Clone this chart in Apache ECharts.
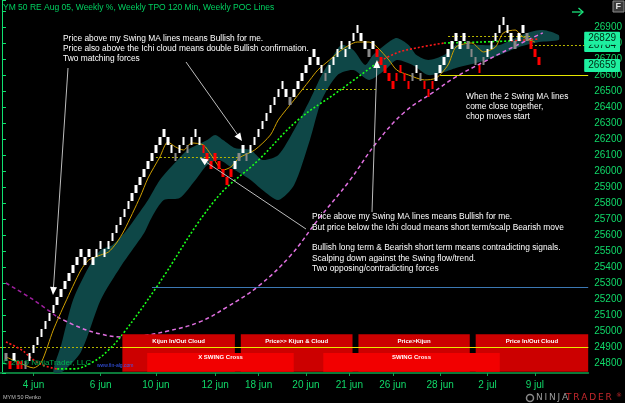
<!DOCTYPE html>
<html><head><meta charset="utf-8">
<script src="https://cdn.jsdelivr.net/npm/echarts@6/dist/echarts.min.js"></script>
<style>html,body{margin:0;padding:0;background:#000}#c{width:625px;height:403px}</style>
</head><body><div id="c"></div>
<script>
// ---------- DATA ----------
const title = 'YM 50 RE Aug 05, Weekly %, Weekly TPO 120 Min, Weekly POC Lines';
// Renko bricks (50 pt): bottom value of each brick, in order
const brickLow = [
24812.5,24762.5,24812.5,24762.5,24762.5,24762.5,24812.5,24862.5,24912.5,24962.5,
25012.5,25062.5,25112.5,25162.5,25212.5,25262.5,25312.5,25362.5,25412.5,25462.5,
25412.5,25462.5,25412.5,25462.5,25512.5,25462.5,25512.5,25562.5,25612.5,25662.5,
25712.5,25762.5,25812.5,25862.5,25912.5,25962.5,26012.5,26062.5,26112.5,26162.5,
26212.5,26162.5,26112.5,26062.5,26112.5,26162.5,26112.5,26162.5,26212.5,26162.5,
26112.5,26062.5,26012.5,26062.5,26012.5,25962.5,25912.5,25962.5,26012.5,26062.5,
26112.5,26062.5,26112.5,26162.5,26212.5,26262.5,26312.5,26362.5,26412.5,26462.5,
26512.5,26462.5,26412.5,26462.5,26512.5,26562.5,26612.5,26662.5,26712.5,26662.5,
26612.5,26562.5,26612.5,26662.5,26712.5,26762.5,26712.5,26762.5,26812.5,26862.5,
26812.5,26762.5,26712.5,26762.5,26712.5,26662.5,26612.5,26562.5,26512.5,26562.5,
26612.5,26562.5,26512.5,26562.5,26612.5,26562.5,26512.5,26462.5,26512.5,26562.5,
26612.5,26662.5,26712.5,26762.5,26812.5,26762.5,26812.5,26762.5,26712.5,26662.5,
26612.5,26662.5,26712.5,26762.5,26812.5,26862.5,26912.5,26862.5,26812.5,26762.5,
26812.5,26862.5,26812.5,26762.5,26712.5,26662.5];
const brickSize = 50;
// W = white, R = red, G = gray
const brickTone =
'GRWRRGWWWW'+'WWWWWWWWWW'+'WWWWWWWWWW'+'WWWWWWWWWW'+'WWWGWWGWWW'+
'RRRRRRRRWG'+'WGWWWWWWWW'+'WWGWWWWWWW'+'WGWWWWWWWW'+'WWGWRRRRRR'+
'RRRGWGRRRW'+'WWWWWWWGGG'+'RGWWWWWWWG'+'WWGRRR';
const barCount = 149;
const dateIdx  = [8, 25, 39, 54, 65, 77, 88, 99, 111, 123, 135];
const dateText = ['4 jun','6 jun','10 jun','12 jun','18 jun','20 jun','21 jun','26 jun','28 jun','2 jul','9 jul'];

// lines: [bar index, value]
const fastMA = [[1,24838],[4,24806],[8,24769],[10,24806],[13,25006],[16,25175],[20,25381],[22,25444],[25,25475],[27,25494],[29,25550],[31,25631],[35,25838],[37,25956],[40,26088],[42,26181],[44,26150],[46,26131],[48,26175],[51,26163],[53,26100],[56,26006],[58,26025],[60,26081],[64,26131],[68,26225],[70,26319],[74,26444],[78,26569],[80,26631],[83,26694],[86,26756],[90,26806],[93,26806],[95,26775],[98,26694],[100,26631],[103,26600],[107,26569],[110,26581],[113,26663],[115,26775],[119,26800],[122,26744],[125,26775],[127,26863],[130,26881],[132,26838],[135,26806]];
const slowFall1 = [[1,24931],[5,24881],[8,24819],[11,24781],[14,24763]];
const slowRise1 = [[14,24763],[18,24763],[23,24806],[27,24881],[31,24994],[39,25269],[54,25819],[65,26069],[75,26319],[85,26494],[95,26675]];
const slowFall2 = [[95,26675],[100,26738],[105,26769],[112,26800]];
const slowRise2 = [[112,26800],[121,26806],[129,26813]];
const slowFall3 = [[129,26813],[136,26825]];
const longFall = [[1,25300],[8,25194],[14,25088]];
const longRise = [[14,25088],[20,25019],[25,24981],[30,24963],[35,24969],[42,25000],[50,25056],[57,25150],[65,25281],[73,25469],[80,25694],[88,25938],[95,26181],[102,26369],[109,26488],[115,26588],[122,26681],[129,26769],[137,26863]];
const cloudTop = [[13,24745],[15,24912],[18,25194],[22,25400],[25,25506],[28,25538],[31,25612],[34,25713],[37,25819],[40,25944],[44,26056],[47,26131],[52,26194],[54,26225],[56,26194],[59,26144],[63,26131],[66,26069],[70,26100],[74,26256],[78,26444],[81,26600],[84,26725],[86,26788],[89,26756],[92,26663],[94,26725],[98,26806],[100,26831],[103,26788],[105,26725],[108,26694],[112,26725],[115,26788],[121,26788],[126,26788],[129,26819],[133,26863],[137,26881],[141,26850]];
const cloudBottom = [[15,24740],[20,24869],[25,25194],[30,25400],[33,25506],[36,25612],[38,25713],[41,25819],[45,25831],[49,25944],[52,26038],[55,26069],[59,26006],[63,25944],[66,25881],[70,25819],[74,25913],[78,26194],[81,26444],[85,26600],[89,26631],[93,26569],[97,26631],[100,26694],[104,26663],[108,26600],[112,26619],[115,26644],[121,26681],[126,26725],[131,26775],[136,26806],[141,26819]];

// horizontal levels [from bar, to bar, value]
const pocDotted = [[39,60,26085],[76,95,26510],[113,134,26844],[134,148.5,26784]];
const pocSolid = [[111,148.5,26600]];
const blueLevel = [[38,148.5,25272]];
const baseLevel = 24900;
const priceTags = [26784, 26829, 26659];

// indicator panels [from bar, to bar, label]
const panelUpper = [[30.5,59,'Kijun In/Out Cloud'],[60.5,88.8,'Price>> Kijun & Cloud'],[90.3,118.5,'Price>Kijun'],[120,148.5,'Price In/Out Cloud']];
const panelLower = [[36.8,73.9,'X SWING Cross'],[81.4,126.1,'SWING Cross']];
const panelTopVal = 24980, panelMidVal = 24862, panelBotVal = 24745;

const note1 = ['Price above my Swing MA lines means Bullish for me.','Price also above the Ichi cloud means double Bullish confirmation.','Two matching forces'];
const note2 = ['Price above my Swing MA lines means Bullish for me.','But price below the Ichi cloud means short term/scalp Bearish move','','Bullish long term & Bearish short term means contradicting signals.','Scalping down against the Swing flow/trend.','Two opposing/contradicting forces'];
const note3 = ['When the 2 Swing MA lines','come close together,','chop moves start'];

// ---------- BUILD ----------
const cats = Array.from({length: barCount}, (_, i) => String(i));
const labelAt = {}; dateIdx.forEach((d, j) => labelAt[d] = dateText[j]);
const toneColor = {W:'#ffffff', R:'#ff0000', G:'#8a8a8a'};
const candle = cats.map(() => '-');
brickLow.forEach((lo, i) => {
  const t = brickTone[i]; const c = toneColor[t];
  const up = t !== 'R';
  candle[i + 1] = {value: up ? [lo, lo + brickSize, lo, lo + brickSize] : [lo + brickSize, lo, lo, lo + brickSize],
    itemStyle: {color: c, color0: c, borderColor: c, borderColor0: c, borderWidth: 0}};
});

const FONT = '"Liberation Sans", Arial, sans-serif';
function lineSeries(data, color, type, width, z, smooth) {
  return {type: 'line', xAxisIndex: 1, yAxisIndex: 0, data, symbol: 'none', smooth: smooth, z, silent: true,
    lineStyle: {color, type, width}};
}
function segLines(list) {
  return list.map(s => [{coord: [s[0], s[2]]}, {coord: [s[1], s[2]]}]);
}
function arrow(x1, y1, x2, y2) {
  const dx = x2 - x1, dy = y2 - y1, L = Math.hypot(dx, dy), ux = dx / L, uy = dy / L;
  const hl = 8, hw = 3.5, bx = x2 - ux * hl, by = y2 - uy * hl;
  return [
    {type: 'line', shape: {x1, y1, x2: bx, y2: by}, style: {stroke: '#bdbdbd', lineWidth: 1}, z: 50},
    {type: 'polygon', shape: {points: [[x2, y2], [bx - uy * hw, by + ux * hw], [bx + uy * hw, by - ux * hw]]}, style: {fill: '#ffffff'}, z: 50}
  ];
}
function textBlock(lines, x, y, lh, color, size) {
  return lines.map((t, i) => ({type: 'text', x, y: y + i * lh, z: 50, silent: true,
    style: {text: t, fill: color, font: size + 'px ' + FONT}}));
}

const graphics = [].concat(
  [{type: 'text', x: 3, y: 3, z: 50, style: {text: title, fill: '#00d060', font: '8.5px ' + FONT}}],
  textBlock(note1, 63, 35, 10, '#ffffff', 8.4),
  textBlock(note2, 312, 213, 10.3, '#ffffff', 8.4),
  textBlock(note3, 466, 93, 10, '#ffffff', 8.4),
  arrow(68, 68, 53, 295),
  arrow(186, 62, 242, 141),
  arrow(306, 229, 200, 158),
  arrow(372, 212, 377, 60),
  [
    {type: 'text', x: 3, y: 359, z: 50, style: {text: '\u00a9 2019 NinjaTrader, LLC', fill: '#00b050', font: '8px ' + FONT}},
    {type: 'text', x: 97, y: 363, z: 50, style: {text: 'www.fin-alg.com', fill: '#3a5cff', font: '5px ' + FONT}},
    {type: 'text', x: 3, y: 394, z: 50, style: {text: 'MYM 50 Renko', fill: '#bdbdbd', font: '5.5px ' + FONT}},
    {type: 'circle', shape: {cx: 530, cy: 398, r: 3.5}, style: {fill: 'none', stroke: '#8a8a8a', lineWidth: 1.5}, z: 50},
    {type: 'text', x: 536, y: 393, z: 50, style: {text: 'N\u2009I\u2009N\u2009J\u2009A', fill: '#9a9a9a', font: '9px "DejaVu Sans"'}},
    {type: 'text', x: 566, y: 393, z: 50, style: {text: 'T\u2009R\u2009A\u2009D\u2009E\u2009R', fill: '#c8282d', font: '9px "DejaVu Sans"'}},
    {type: 'text', x: 616, y: 392, z: 50, style: {text: '\u00ae', fill: '#c8282d', font: '6px "DejaVu Sans"'}},
    {type: 'rect', shape: {x: 613, y: 1, width: 11, height: 11}, style: {fill: '#3a3a3a', stroke: '#8c8c8c', lineWidth: 1}, z: 50},
    {type: 'text', x: 615.5, y: 2, z: 51, style: {text: 'F', fill: '#e0e0e0', font: 'bold 9px ' + FONT}},
    {type: 'polyline', shape: {points: [[572, 12], [583, 12]]}, style: {stroke: '#19e27a', lineWidth: 1.3}, z: 50},
    {type: 'polyline', shape: {points: [[578.5, 8], [583, 12], [578.5, 16]]}, style: {stroke: '#19e27a', lineWidth: 1.3, fill: 'none'}, z: 50}
  ]
);

const option = {
  backgroundColor: '#000000',
  animation: false,
  grid: {left: 0, right: 34, top: 0, bottom: 30, containLabel: false},
  xAxis: [
    {type: 'category', data: cats, boundaryGap: true,
     axisLine: {show: true, lineStyle: {color: '#0b7a3a', width: 2}},
     axisTick: {show: true, alignWithLabel: true, length: 3, interval: (i) => labelAt[i] !== undefined, lineStyle: {color: '#12a050'}},
     axisLabel: {interval: (i) => labelAt[i] !== undefined, formatter: (v, i) => labelAt[i] || '', color: '#10d868', fontSize: 10, fontFamily: FONT, margin: 7},
     splitLine: {show: false}},
    {type: 'value', min: -0.5, max: barCount - 0.5, show: false}
  ],
  yAxis: {type: 'value', position: 'right', min: 24737.5, max: 27068.75, minInterval: 100, maxInterval: 100, splitNumber: 23,
    splitLine: {show: false},
    axisLine: {show: true, lineStyle: {color: '#10e070'}},
    axisTick: {show: true, length: 4, lineStyle: {color: '#10e070'}},
    axisLabel: {margin: 6, color: '#10d868', fontSize: 10, fontFamily: FONT,
      formatter: (v) => (Math.abs(v % 100) < 1e-6 && v >= 24800 && v <= 26900) ? String(v) : ''}},
  graphic: {elements: graphics},
  series: [
    // Ichimoku cloud as a polygon between its two edges
    {type: 'custom', xAxisIndex: 1, yAxisIndex: 0, z: 1, silent: true, clip: true,
     data: [cloudTop[0]],
     renderItem: (params, api) => {
       const pts = cloudTop.map(p => api.coord(p)).concat(cloudBottom.slice().reverse().map(p => api.coord(p)));
       return {type: 'polygon', shape: {points: pts, smooth: 0.25}, style: {fill: '#0e4747'}};
     }},
    // horizontal levels
    {type: 'line', xAxisIndex: 1, data: [], z: 3, silent: true,
     markLine: {silent: true, symbol: 'none', z: 3, label: {show: false},
       data: [].concat(
         [{yAxis: baseLevel, lineStyle: {color: '#b4b400', type: [2, 2], width: 1}}],
         segLines(pocDotted).map(d => [Object.assign({lineStyle: {color: '#b8b800', type: [2, 2], width: 1}}, d[0]), d[1]]),
         segLines(pocSolid).map(d => [Object.assign({lineStyle: {color: '#e6e600', type: 'solid', width: 1}}, d[0]), d[1]]),
         segLines(blueLevel).map(d => [Object.assign({lineStyle: {color: '#3c78b4', type: 'solid', width: 1}}, d[0]), d[1]])
       )}},
    // moving averages
    lineSeries(longFall, '#a020a0', [4, 3], 1.5, 4, 0.4),
    lineSeries(longRise, '#e070e0', [4, 3], 1.5, 4, 0.4),
    lineSeries(slowFall1, '#ff1a1a', [2, 2], 1.6, 4, 0.4),
    lineSeries(slowRise1, '#19ff19', [2, 2], 1.6, 4, 0.4),
    lineSeries(slowFall2, '#ff1a1a', [2, 2], 1.6, 4, 0.4),
    lineSeries(slowRise2, '#19ff19', [2, 2], 1.6, 4, 0.4),
    lineSeries(slowFall3, '#ff1a1a', [2, 2], 1.6, 4, 0.4),
    lineSeries(fastMA, '#d0a000', 'solid', 1, 4, 0.25),
    // renko bricks
    {type: 'candlestick', xAxisIndex: 0, data: candle, barWidth: 3, z: 5, silent: true},
    // indicator panels
    {type: 'line', xAxisIndex: 1, data: [], z: 6, silent: true,
     markArea: {silent: true, z: 6, itemStyle: {color: '#cc0000'},
       label: {show: true, position: 'insideTop', distance: 4, color: '#ffffff', fontSize: 6, fontWeight: 'bold', fontFamily: FONT},
       data: panelUpper.map(p => [{xAxis: p[0], yAxis: panelTopVal, name: p[2]}, {xAxis: p[1], yAxis: panelBotVal}])}},
    {type: 'line', xAxisIndex: 1, data: [], z: 7, silent: true,
     markArea: {silent: true, z: 7, itemStyle: {color: '#f20000'},
       label: {show: true, position: 'insideTop', distance: 1, color: '#ffffff', fontSize: 6, fontWeight: 'bold', fontFamily: FONT},
       data: panelLower.map(p => [{xAxis: p[0], yAxis: panelMidVal, name: p[2]}, {xAxis: p[1], yAxis: panelBotVal}])}},
    {type: 'line', xAxisIndex: 1, data: [], z: 8, silent: true,
     markLine: {silent: true, symbol: 'none', z: 8, label: {show: false},
       data: [[{coord: [panelUpper[0][0], baseLevel], lineStyle: {color: '#e8e800', type: 'solid', width: 1}}, {coord: [barCount - 0.5, baseLevel]}]]}},
    // price tags
    {type: 'line', xAxisIndex: 1, data: [], z: 9, silent: true,
     markLine: {silent: true, symbol: 'none', z: 9, lineStyle: {color: 'rgba(0,0,0,0)', width: 1},
       label: {show: true, position: 'end', distance: -4, formatter: (p) => String(p.value), backgroundColor: '#1ef0a0',
         color: '#002a14', padding: [2, 4, 1, 4], fontSize: 10, fontFamily: FONT, borderRadius: 1, opacity: 1},
       data: priceTags.map(v => ({yAxis: v}))}}
  ]
};
const chart = echarts.init(document.getElementById('c'), null, {renderer: 'canvas', width: 625, height: 403});
chart.setOption(option);
</script>
</body></html>
